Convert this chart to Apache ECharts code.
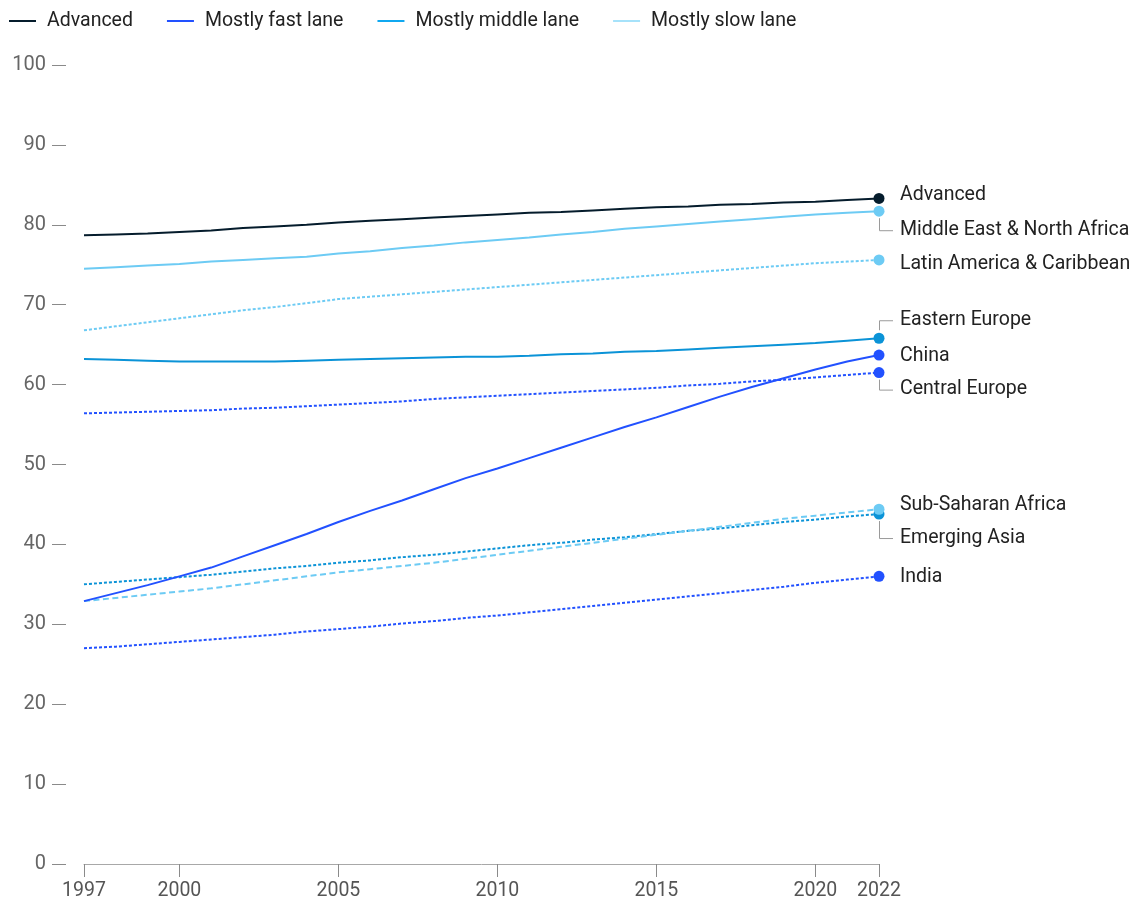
<!DOCTYPE html>
<html>
<head>
<meta charset="utf-8">
<title>Life expectancy by region, 1997–2022</title>
<script src="https://cdn.jsdelivr.net/npm/echarts@6/dist/echarts.min.js"></script>
<style>
  html, body { margin: 0; padding: 0; background: #ffffff; }
  #chart { width: 1143px; height: 901px; }
</style>
</head>
<body>
<div id="chart"></div>
<script>
// Years on the category axis
const years = ['1997','1998','1999','2000','2001','2002','2003','2004','2005','2006','2007','2008','2009',
               '2010','2011','2012','2013','2014','2015','2016','2017','2018','2019','2020','2021','2022'];
// Years that carry a tick and a label
const tickYears = ['1997','2000','2005','2010','2015','2020','2022'];

// Legend groups
const groups = ['Advanced', 'Mostly fast lane', 'Mostly middle lane', 'Mostly slow lane'];

// Region series, one value per year
const advanced      = [78.7,78.8,78.9,79.1,79.3,79.6,79.8,80.0,80.3,80.5,80.7,80.9,81.1,81.3,81.5,81.6,81.8,82.0,82.2,82.3,82.5,82.6,82.8,82.9,83.1,83.3];
const menaf         = [74.5,74.7,74.9,75.1,75.4,75.6,75.8,76.0,76.4,76.7,77.1,77.4,77.8,78.1,78.4,78.8,79.1,79.5,79.8,80.1,80.4,80.7,81.0,81.3,81.5,81.7];
const latinAmerica  = [66.8,67.3,67.8,68.3,68.8,69.3,69.7,70.2,70.7,71.0,71.3,71.6,71.9,72.2,72.5,72.8,73.1,73.4,73.7,74.0,74.3,74.6,74.9,75.2,75.4,75.6];
const easternEurope = [63.2,63.1,63.0,62.9,62.9,62.9,62.9,63.0,63.1,63.2,63.3,63.4,63.5,63.5,63.6,63.8,63.9,64.1,64.2,64.4,64.6,64.8,65.0,65.2,65.5,65.8];
const china         = [32.9,33.9,34.9,36.0,37.1,38.5,39.9,41.3,42.8,44.2,45.5,46.9,48.3,49.5,50.8,52.1,53.4,54.7,55.9,57.2,58.5,59.7,60.8,61.9,62.9,63.7];
const centralEurope = [56.4,56.5,56.6,56.7,56.8,57.0,57.1,57.3,57.5,57.7,57.9,58.2,58.4,58.6,58.8,59.0,59.2,59.4,59.6,59.9,60.1,60.4,60.6,60.9,61.2,61.5];
const subSaharan    = [32.9,33.3,33.7,34.1,34.5,35.0,35.5,36.0,36.5,36.9,37.3,37.7,38.2,38.7,39.2,39.7,40.2,40.7,41.2,41.7,42.2,42.7,43.2,43.6,44.0,44.4];
const emergingAsia  = [35.0,35.3,35.6,35.9,36.2,36.6,37.0,37.3,37.7,38.0,38.4,38.7,39.1,39.5,39.9,40.2,40.6,40.9,41.3,41.7,42.0,42.4,42.8,43.1,43.5,43.8];
const india         = [27.0,27.2,27.5,27.8,28.1,28.4,28.7,29.1,29.4,29.7,30.1,30.4,30.8,31.1,31.5,31.9,32.3,32.7,33.1,33.5,33.9,34.3,34.7,35.2,35.6,36.0];

// Colours per group
const groupColor = {
  'Advanced': '#051c2c',
  'Mostly fast lane': '#2251ff',
  'Mostly middle lane': '#0b93d7',
  'Mostly slow lane': '#6dcbf4'
};
const legendColor = {
  'Advanced': '#051c2c',
  'Mostly fast lane': '#2251ff',
  'Mostly middle lane': '#10a8f0',
  'Mostly slow lane': '#a6e2fa'
};

const DOTTED = [3, 2];
const DASHED = [6, 3.5];

// Each region: legend group, line pattern, end label and how the end label sits
const regions = [
  { label: 'Advanced',                   group: 'Advanced',           data: advanced,      dash: 'solid', dy: -3 },
  { label: 'Middle East & North Africa', group: 'Mostly slow lane',   data: menaf,         dash: 'solid', dy: 19, leader: 'down' },
  { label: 'Latin America & Caribbean',  group: 'Mostly slow lane',   data: latinAmerica,  dash: DOTTED,  dy: 4 },
  { label: 'Eastern Europe',             group: 'Mostly middle lane', data: easternEurope, dash: 'solid', dy: -18, leader: 'up' },
  { label: 'China',                      group: 'Mostly fast lane',   data: china,         dash: 'solid', dy: 1 },
  { label: 'Central Europe',             group: 'Mostly fast lane',   data: centralEurope, dash: DOTTED,  dy: 17, leader: 'down' },
  { label: 'Sub-Saharan Africa',         group: 'Mostly slow lane',   data: subSaharan,    dash: DASHED,  dy: -4 },
  { label: 'Emerging Asia',              group: 'Mostly middle lane', data: emergingAsia,  dash: DOTTED,  dy: 24, leader: 'down' },
  { label: 'India',                      group: 'Mostly fast lane',   data: india,         dash: DOTTED,  dy: 1 }
];

const FONT = 'Roboto, "Noto Sans", sans-serif';
const TEXT_SIZE = 19.5;
const lastIndex = years.length - 1;

const chart = echarts.init(document.getElementById('chart'), null, { renderer: 'canvas' });

const series = regions.map(function (r, i) {
  const c = groupColor[r.group];
  return {
    type: 'line',
    name: r.group,
    data: r.data,
    smooth: false,
    symbol: 'circle',
    showSymbol: true,
    showAllSymbol: true,
    symbolSize: function (v, p) { return p.dataIndex === lastIndex ? 11 : 0; },
    lineStyle: { color: c, width: 2, type: r.dash, cap: 'butt' },
    itemStyle: { color: c, borderWidth: 0 },
    emphasis: { disabled: true },
    z: 2 + (regions.length - i)
  };
});

chart.setOption({
  animation: false,
  backgroundColor: '#ffffff',
  textStyle: { fontFamily: FONT },
  legend: {
    show: true,
    left: 4,
    top: 6,
    icon: 'rect',
    itemWidth: 27,
    itemHeight: 2,
    itemGap: 34,
    selectedMode: false,
    data: groups.map(function (g) {
      return { name: g, itemStyle: { color: legendColor[g] } };
    }),
    textStyle: { fontSize: TEXT_SIZE, color: '#222', fontFamily: FONT, padding: [0, 0, 0, 6] }
  },
  grid: { left: 84, right: 264, top: 65, bottom: 37, containLabel: false },
  xAxis: {
    type: 'category',
    data: years,
    boundaryGap: false,
    axisLine: { show: true, lineStyle: { color: '#a8a8a8', width: 1 } },
    axisTick: {
      show: true,
      length: 13,
      interval: function (i, v) { return tickYears.indexOf(v) >= 0; },
      lineStyle: { color: '#8a8a8a', width: 1 }
    },
    axisLabel: {
      interval: function (i, v) { return tickYears.indexOf(v) >= 0; },
      margin: 17,
      fontSize: TEXT_SIZE,
      color: '#555',
      fontFamily: FONT
    },
    splitLine: { show: false }
  },
  yAxis: {
    type: 'value',
    min: 0,
    max: 100,
    interval: 10,
    offset: 18,
    axisLine: { show: false },
    axisTick: { show: true, length: 14, lineStyle: { color: '#8a8a8a', width: 1 } },
    axisLabel: { margin: 20, fontSize: 20, color: '#666', fontFamily: FONT, padding: [3, 0, 0, 0] },
    splitLine: { show: false }
  },
  series: series
});

// End labels and their leader lines, placed from each series' final point
const graphics = [];
regions.forEach(function (r, i) {
  const pt = chart.convertToPixel({ seriesIndex: i }, [lastIndex, r.data[lastIndex]]);
  const x = pt[0], y = pt[1];
  const ly = y + r.dy;
  if (r.leader === 'down' || r.leader === 'up') {
    const startY = r.leader === 'down' ? y + 7 : y - 8;
    graphics.push({
      type: 'polyline',
      silent: true,
      shape: { points: [[x + 0.5, startY], [x + 0.5, ly + 0.5], [x + 14, ly + 0.5]] },
      style: { stroke: '#9a9a9a', lineWidth: 1, fill: null }
    });
  }
  graphics.push({
    type: 'text',
    silent: true,
    x: x + 21,
    y: ly,
    style: {
      text: r.label,
      fill: '#222',
      font: TEXT_SIZE + 'px ' + FONT,
      verticalAlign: 'middle',
      align: 'left'
    }
  });
});
chart.setOption({ graphic: graphics });
</script>
</body>
</html>
